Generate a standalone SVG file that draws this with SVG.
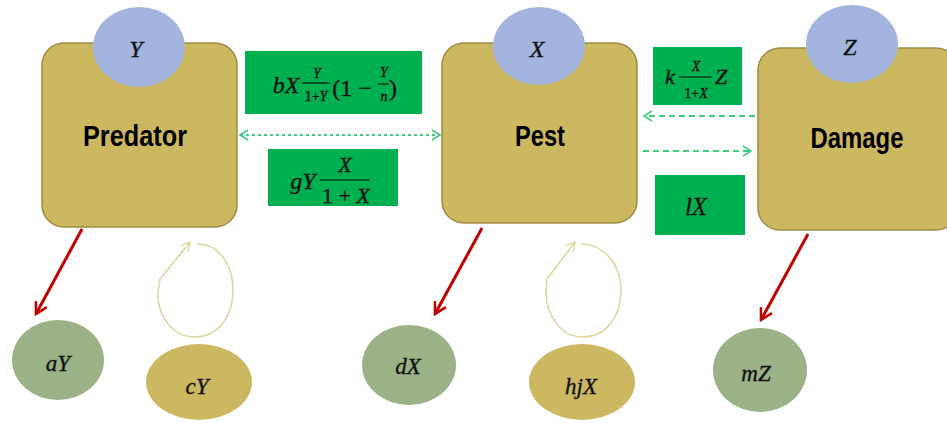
<svg xmlns="http://www.w3.org/2000/svg" width="947" height="423" viewBox="0 0 947 423">
<style>
.box{fill:#CDB862;stroke:#9E8C45;stroke-width:1.5}
.var{fill:#A3B5DF}
.loss{fill:#9BB186}
.gain{fill:#CDB862}
.green{fill:#00B050}
.lbl{font-family:"Liberation Sans",Arial,sans-serif;font-weight:bold;font-size:29px;fill:#000;text-anchor:middle}
.m{font-family:"Liberation Serif","DejaVu Serif",serif;font-style:italic;fill:#111;text-anchor:middle;stroke:#111;stroke-width:0.35}
.mr{font-family:"Liberation Serif","DejaVu Serif",serif;fill:#111;text-anchor:middle;stroke:#111;stroke-width:0.35}
.red{stroke:#C00000;stroke-width:3;fill:none;marker-end:url(#redhead)}
.dot{stroke:#3FCB80;stroke-width:2;fill:none}
.loop{stroke:#E3D59E;stroke-width:1.6;fill:none;marker-end:url(#loophead)}
.bar{stroke:#111;stroke-width:1.2}
</style>
<defs>
<marker id="redhead" viewBox="0 0 12 12" refX="10" refY="6" markerWidth="5" markerHeight="5" orient="auto" markerUnits="strokeWidth">
<path d="M1,1 L10,6 L1,11" fill="none" stroke="#C00000" stroke-width="2"/>
</marker>
<marker id="greenhead" viewBox="0 0 12 12" refX="10" refY="6" markerWidth="6" markerHeight="6" orient="auto-start-reverse" markerUnits="strokeWidth">
<path d="M2,1 L10,6 L2,11" fill="none" stroke="#3FCB80" stroke-width="1.6"/>
</marker>
<marker id="loophead" viewBox="0 0 12 12" refX="10" refY="6" markerWidth="7" markerHeight="7" orient="auto" markerUnits="strokeWidth">
<path d="M1,1 L10,6 L1,11" fill="none" stroke="#E3D59E" stroke-width="1.4"/>
</marker>
</defs>
<rect width="947" height="423" fill="#fff"/>

<g id="predator">
<rect class="box" x="42" y="43" width="195" height="184" rx="22"/>
<ellipse class="var" cx="139" cy="47" rx="46" ry="40"/>
<text class="m" x="136" y="57" font-size="24">Y</text>
<text class="lbl" x="135" y="146" textLength="104" lengthAdjust="spacingAndGlyphs">Predator</text>
</g>

<g id="pest">
<rect class="box" x="442" y="43" width="195" height="180" rx="22"/>
<ellipse class="var" cx="539" cy="46" rx="46" ry="39"/>
<text class="m" x="537" y="57" font-size="24">X</text>
<text class="lbl" x="540" y="146" textLength="50" lengthAdjust="spacingAndGlyphs">Pest</text>
</g>

<g id="damage">
<rect class="box" x="758" y="48" width="200" height="182" rx="22"/>
<ellipse class="var" cx="852" cy="44" rx="46" ry="39"/>
<text class="m" x="850" y="55" font-size="24">Z</text>
<text class="lbl" x="857" y="148" textLength="93" lengthAdjust="spacingAndGlyphs">Damage</text>
</g>

<g id="rate-bX">
<rect class="green" x="245" y="51" width="177" height="63"/>
<text class="m" x="286" y="93" font-size="24">bX</text>
<text class="m" x="317" y="78" font-size="14">Y</text>
<line class="bar" x1="302" y1="83" x2="330" y2="83"/>
<text class="mr" x="316" y="101" font-size="14">1+<tspan font-style="italic">Y</tspan></text>
<text class="mr" x="352" y="96" font-size="24">(1 −</text>
<text class="m" x="384" y="77" font-size="14">Y</text>
<line class="bar" x1="378" y1="84" x2="389" y2="84"/>
<text class="m" x="384" y="101" font-size="14">n</text>
<text class="mr" x="393" y="96" font-size="24">)</text>
</g>

<g id="rate-gY">
<rect class="green" x="268" y="149" width="130" height="57"/>
<text class="m" x="303" y="189" font-size="24">gY</text>
<text class="m" x="345" y="172" font-size="22">X</text>
<line class="bar" x1="320" y1="180" x2="370" y2="180"/>
<text class="mr" x="346" y="203" font-size="22">1 + <tspan font-style="italic">X</tspan></text>
</g>

<g id="rate-kXZ">
<rect class="green" x="653" y="47" width="89" height="58"/>
<text class="m" x="670" y="84" font-size="22">k</text>
<text class="m" x="696" y="71" font-size="14">X</text>
<line class="bar" x1="679" y1="77" x2="712" y2="77"/>
<text class="mr" x="696" y="98" font-size="14">1+<tspan font-style="italic">X</tspan></text>
<text class="m" x="721" y="84" font-size="22">Z</text>
</g>

<g id="rate-lX">
<rect class="green" x="655" y="175" width="90" height="60"/>
<text class="m" x="696" y="215" font-size="25">lX</text>
</g>

<g id="aY"><ellipse class="loss" cx="58" cy="360" rx="46" ry="40"/><text class="m" x="58" y="371" font-size="23">aY</text></g>
<g id="cY"><ellipse class="gain" cx="199" cy="382" rx="53" ry="38"/><text class="m" x="197" y="394" font-size="23">cY</text></g>
<g id="dX"><ellipse class="loss" cx="409" cy="365" rx="47" ry="40"/><text class="m" x="408" y="374" font-size="23">dX</text></g>
<g id="hjX"><ellipse class="gain" cx="582" cy="382" rx="53" ry="38"/><text class="m" x="581" y="394" font-size="23">hjX</text></g>
<g id="mZ"><ellipse class="loss" cx="760" cy="370" rx="47" ry="42"/><text class="m" x="756" y="381" font-size="23">mZ</text></g>

<g id="connectors">
<line class="dot" x1="240" y1="135" x2="440" y2="135" stroke-dasharray="3 3" marker-start="url(#greenhead)" marker-end="url(#greenhead)"/>
<line class="dot" x1="755" y1="116" x2="644" y2="116" stroke-dasharray="6 4" marker-end="url(#greenhead)"/>
<line class="dot" x1="643" y1="151" x2="751" y2="151" stroke-dasharray="6 4" marker-end="url(#greenhead)"/>
<line class="red" x1="82" y1="229" x2="36" y2="314"/>
<line class="red" x1="482" y1="228" x2="435" y2="314"/>
<line class="red" x1="808" y1="234" x2="761" y2="320"/>
<path class="loop" d="M197,244 C220,244 233,266 233,290 C233,318 217,337 195,337 C172,337 157,315 158,292 L160,279 L190,242"/>
<path class="loop" d="M581,244 C605,244 621,266 621,290 C621,318 605,337 583,337 C561,337 546,315 546,292 L547,279 L575,242"/>
</g>
</svg>
